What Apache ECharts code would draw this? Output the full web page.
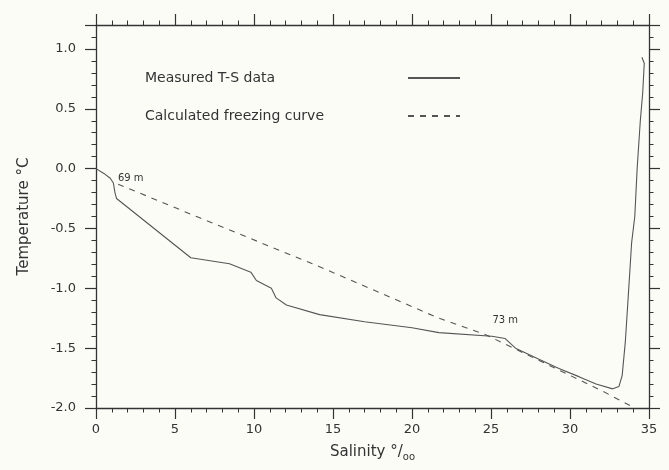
<!DOCTYPE html>
<html>
<head>
<meta charset="utf-8">
<script src="https://cdn.jsdelivr.net/npm/echarts@6/dist/echarts.min.js"></script>
<style>
  html, body { margin: 0; padding: 0; background: #fcfcf7; }
  #chart { width: 669px; height: 470px; }
</style>
</head>
<body>
<div id="chart"></div>
<script>
// salinity (per mille) / temperature (deg C)
const measuredTS = [
  [0, 0.0], [0.5, -0.04], [0.9, -0.08], [1.1, -0.12], [1.2, -0.2], [1.3, -0.25],
  [6.0, -0.745], [8.45, -0.795], [9.8, -0.865], [10.15, -0.935], [11.1, -1.0],
  [11.4, -1.08], [12.05, -1.14], [14.15, -1.22], [17, -1.28], [20, -1.33],
  [21.7, -1.37], [25.05, -1.4], [25.9, -1.42], [26.55, -1.5], [28.0, -1.59],
  [29.3, -1.67], [30.6, -1.74], [31.65, -1.8], [32.7, -1.84], [33.1, -1.82],
  [33.3, -1.73], [33.5, -1.45], [33.7, -1.04], [33.9, -0.62], [34.1, -0.4],
  [34.25, 0.0], [34.45, 0.4], [34.6, 0.63], [34.7, 0.88], [34.55, 0.93]
]
const freezingCurve = [
  [1.4, -0.13], [6.45, -0.405], [13.98, -0.81], [21.7, -1.25], [24.7, -1.39],
  [32.0, -1.855], [33.8, -1.98]
]
const depthNotes = [
  { name: '69 m', coord: [2.2, -0.08] },
  { name: '73 m', coord: [25.9, -1.27] }
]
const seriesNames = ['Measured T-S data', 'Calculated freezing curve']

const ink = '#333'
const lineInk = '#555'
const font = 'DejaVu Sans'

function makeX(pos, showLabels) {
  return {
    type: 'value', position: pos, min: 0, max: 35, interval: 5,
    axisLine: { show: true, onZero: false, lineStyle: { color: ink, width: 1.3 } },
    axisTick: { show: true, length: 11, lineStyle: { color: ink, width: 1.2 } },
    minorTick: { show: true, splitNumber: 5, length: 4.5, lineStyle: { color: ink, width: 1 } },
    splitLine: { show: false },
    axisLabel: { show: showLabels, margin: 15, fontSize: 13, fontFamily: font, color: ink }
  }
}
function makeY(pos, showLabels) {
  return {
    type: 'value', position: pos, min: -2, max: 1.2, interval: 0.5,
    axisLine: { show: true, onZero: false, lineStyle: { color: ink, width: 1.3 } },
    axisTick: { show: true, length: 11, lineStyle: { color: ink, width: 1.2 } },
    minorTick: { show: true, splitNumber: 5, length: 4.5, lineStyle: { color: ink, width: 1 } },
    splitLine: { show: false },
    axisLabel: {
      show: showLabels, margin: 20, fontSize: 13, fontFamily: font, color: ink,
      formatter: v => (v > 1.1 ? '' : v.toFixed(1))
    }
  }
}

const chart = echarts.init(document.getElementById('chart'))

const xBottom = makeX('bottom', true)
xBottom.name = '{a|Salinity °/}{b|oo}'
xBottom.nameLocation = 'middle'
xBottom.nameGap = 35
xBottom.nameTextStyle = {
  fontFamily: font, color: ink,
  rich: {
    a: { fontSize: 15, fontFamily: font, color: ink },
    b: { fontSize: 10, fontFamily: font, color: ink, padding: [9, 0, 0, 0] }
  }
}
const yLeft = makeY('left', true)
yLeft.name = 'Temperature °C'
yLeft.nameLocation = 'middle'
yLeft.nameGap = 64
yLeft.nameTextStyle = { fontSize: 15, fontFamily: font, color: ink }

chart.setOption({
  backgroundColor: '#fcfcf7',
  animation: false,
  grid: { left: 96, right: 20, top: 25, bottom: 62 },
  legend: {
    orient: 'vertical', left: 140, top: 66, align: 'right',
    itemWidth: 52, itemHeight: 14, itemGap: 24,
    data: seriesNames,
    itemStyle: { opacity: 0 },
    formatter: n => '{t|' + n + '}',
    textStyle: {
      color: ink, fontFamily: font, fontSize: 14,
      rich: { t: { width: 258, align: 'left', fontSize: 14, fontFamily: font, color: ink } }
    }
  },
  xAxis: [xBottom, makeX('top', false)],
  yAxis: [yLeft, makeY('right', false)],
  series: [
    {
      name: seriesNames[0], type: 'line', data: measuredTS,
      symbol: 'none', smooth: false,
      lineStyle: { color: lineInk, width: 1.1 },
      itemStyle: { color: lineInk }
    },
    {
      name: seriesNames[1], type: 'line', data: freezingCurve,
      symbol: 'none',
      lineStyle: { color: lineInk, width: 1.1, type: [6, 6] },
      itemStyle: { color: lineInk },
      markPoint: {
        symbol: 'circle', symbolSize: 0,
        label: {
          show: true, position: 'inside', formatter: '{b}',
          fontSize: 10, fontFamily: font, color: ink
        },
        data: depthNotes
      }
    }
  ]
})
</script>
</body>
</html>
